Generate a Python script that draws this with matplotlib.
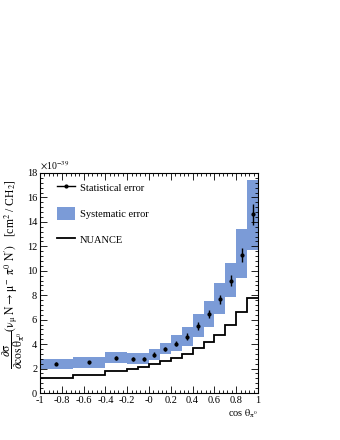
import numpy as np
import matplotlib
matplotlib.use("Agg")
import matplotlib.pyplot as plt
from matplotlib.patches import Patch
from matplotlib.lines import Line2D
from matplotlib.ticker import MultipleLocator

# ----------------------------
# Data (units of 1e-39 cm^2 / CH2)
# ----------------------------
edges  = [-1.0, -0.7, -0.4, -0.2, -0.1, 0.0, 0.1, 0.2, 0.3, 0.4, 0.5, 0.6, 0.7, 0.8, 0.9, 1.0]
xsec   = [2.41, 2.50, 2.87, 2.79, 2.80, 3.13, 3.60, 4.05, 4.62, 5.49, 6.45, 7.66, 9.18, 11.30, 14.62]
stat   = [0.15, 0.15, 0.18, 0.15, 0.15, 0.20, 0.20, 0.22, 0.25, 0.30, 0.33, 0.38, 0.45, 0.55, 0.85]
sys_lo = [2.00, 2.05, 2.43, 2.40, 2.40, 2.73, 3.23, 3.42, 3.83, 4.59, 5.36, 6.45, 7.87, 9.37, 11.70]
sys_hi = [2.82, 2.93, 3.36, 3.28, 3.28, 3.64, 4.13, 4.73, 5.38, 6.45, 7.52, 8.97, 10.60, 13.39, 17.40]
nuance = [1.26, 1.50, 1.80, 1.93, 2.13, 2.35, 2.62, 2.90, 3.23, 3.66, 4.18, 4.78, 5.60, 6.60, 7.76]

xticklabels = ["-1", "-0.8", "-0.6", "-0.4", "-0.2", "-0", "0.2", "0.4", "0.6", "0.8", "1"]

SYS_COLOR = "#7b9bd7"
FS = 7.5

plt.rcParams["font.family"] = ["Liberation Serif", "DejaVu Serif"]
plt.rcParams["mathtext.fontset"] = "stix"

# ----------------------------
# Plot
# ----------------------------
fig = plt.figure(figsize=(3.4, 4.4), dpi=100)
ax = fig.add_axes([40 / 340, 1 - 393 / 440, 218 / 340, 220 / 440])

e = np.array(edges)
centers = 0.5 * (e[:-1] + e[1:])
widths = np.diff(e)
lo, hi = np.array(sys_lo), np.array(sys_hi)

ax.bar(e[:-1], hi - lo, bottom=lo, width=widths, align="edge",
       color=SYS_COLOR, edgecolor="none", zorder=1)
ax.stairs(nuance, e, baseline=None, color="k", lw=1.3, zorder=2)
ax.errorbar(centers, xsec, yerr=stat, fmt="o", ms=2.0, color="k",
            elinewidth=1.0, capsize=0, zorder=3)

ax.set_xlim(-1, 1)
ax.set_ylim(0, 18)
ax.set_xticks(np.linspace(-1, 1, 11))
ax.set_xticklabels(xticklabels)
ax.set_yticks(np.arange(0, 19, 2))
ax.xaxis.set_minor_locator(MultipleLocator(0.04))
ax.yaxis.set_minor_locator(MultipleLocator(0.4))
ax.tick_params(which="both", direction="in", top=True, right=True,
               labelsize=FS, width=0.6, pad=2)
ax.tick_params(which="major", length=5)
ax.tick_params(which="minor", length=2.5)
for s in ax.spines.values():
    s.set_linewidth(0.8)

ax.text(0.0, 1.005, r"$\times$10$^{-39}$", transform=ax.transAxes,
        fontsize=FS - 0.5, ha="left", va="bottom")

ax.set_xlabel(r"cos $\mathrm{\theta}_{\mathrm{\pi}^0}$", fontsize=FS, loc="right", labelpad=2)
fig.text(14 / 340, 1 - 179 / 440,
         r"$\dfrac{\partial\mathrm{\sigma}}{\partial\mathrm{cos}\,\mathrm{\theta}_{\mathrm{\pi}^0}}"
         r"(\mathrm{\nu}_\mathrm{\mu}\ \mathrm{N}\rightarrow\mathrm{\mu}^-\ \mathrm{\pi}^0\ \mathrm{N}^{\prime})$"
         r"   [cm$^2$ / CH$_2$]",
         rotation=90, fontsize=8.4, ha="center", va="top")

handles = [
    Line2D([], [], color="k", marker="o", ms=2.0, lw=1.0),
    Patch(facecolor=SYS_COLOR, edgecolor="none"),
    Line2D([], [], color="k", lw=1.3),
]
labels = ["Statistical error", "Systematic error", "NUANCE"]
ax.legend(handles, labels, loc="upper left", bbox_to_anchor=(0.077, 0.962),
          frameon=False, fontsize=FS, borderpad=0, borderaxespad=0,
          handlelength=1.75, handleheight=1.45, labelspacing=1.3,
          handletextpad=0.5)

fig.savefig("out.png", dpi=100)
